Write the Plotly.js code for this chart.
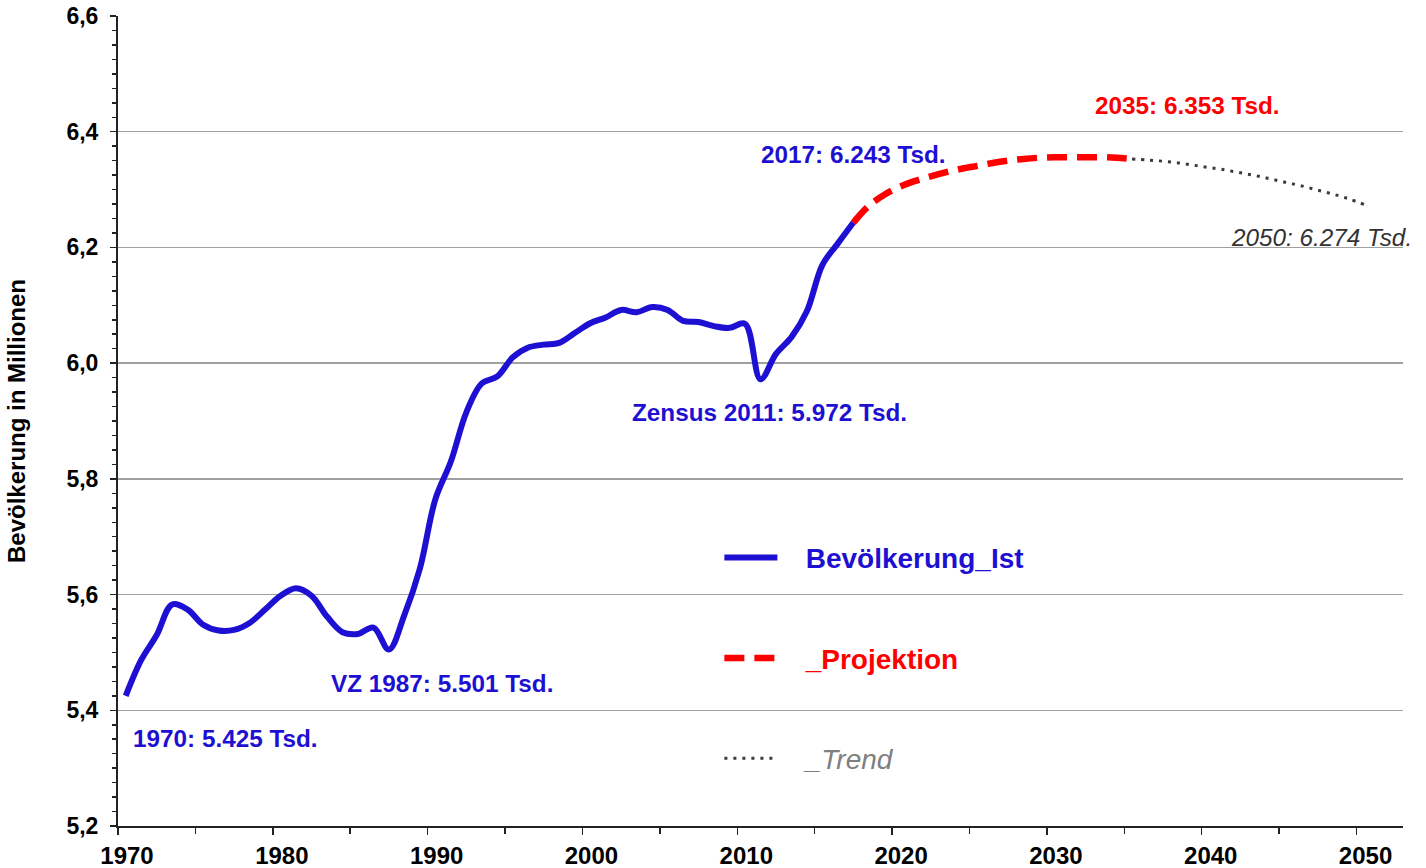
<!DOCTYPE html>
<html>
<head>
<meta charset="utf-8">
<script src="https://cdn.plot.ly/plotly-3.0.1.min.js"></script>
<style>html,body{margin:0;padding:0;background:#fff;}#chart{width:1426px;height:868px;}</style>
</head>
<body>
<div id="chart"></div>
<script>
// Bevölkerung (Mio.), Stand je Jahr
const yearsIst = [1970,1971,1972,1973,1974,1975,1976,1977,1978,1979,1980,1981,1982,1983,1984,1985,1986,1987,1988,1989,1990,1991,1992,1993,1994,1995,1996,1997,1998,1999,2000,2001,2002,2003,2004,2005,2006,2007,2008,2009,2010,2011,2012,2013,2014,2015,2016,2017];
const valuesIst = [5.425,5.487,5.530,5.583,5.574,5.548,5.538,5.539,5.551,5.574,5.598,5.611,5.598,5.562,5.535,5.532,5.543,5.505,5.565,5.645,5.765,5.830,5.915,5.965,5.977,6.010,6.027,6.032,6.035,6.052,6.069,6.079,6.092,6.088,6.097,6.092,6.073,6.071,6.064,6.061,6.068,5.972,6.016,6.045,6.090,6.170,6.207,6.243];

const yearsProj = [2017,2018,2019,2020,2021,2022,2023,2024,2025,2026,2027,2028,2029,2030,2031,2032,2033,2034,2035];
const valuesProj = [6.243,6.272,6.291,6.305,6.315,6.323,6.330,6.336,6.341,6.346,6.350,6.353,6.355,6.356,6.356,6.356,6.356,6.355,6.353];

const yearsTrend = [2035,2036,2037,2038,2039,2040,2041,2042,2043,2044,2045,2046,2047,2048,2049,2050];
const valuesTrend = [6.353,6.351,6.349,6.346,6.342,6.338,6.334,6.329,6.324,6.318,6.312,6.306,6.299,6.292,6.284,6.274];

const seriesNames = ['Bevölkerung_Ist','_Projektion','_Trend'];
const labelTexts = ['1970: 5.425 Tsd.','VZ 1987: 5.501 Tsd.','Zensus 2011: 5.972 Tsd.','2017: 6.243 Tsd.','2035: 6.353 Tsd.','2050: 6.274 Tsd.'];
const yTitle = 'Bevölkerung in Millionen';

const BLUE = '#1E10D2', RED = '#FF0000', GREY = '#3a3a3a';
const FONT = '"Liberation Sans", Arial, sans-serif';
const PAD = '\u00A0\u00A0\u00A0';
// points are plotted at the middle of each year
const mid = ys => ys.map(y => y + 0.5);

const traces = [
  {x: mid(yearsIst), y: valuesIst, mode: 'lines', name: '<span style="color:'+BLUE+'"><b>'+PAD+seriesNames[0]+'</b></span>',
   legendgroup: 'a', line: {color: BLUE, width: 6, shape: 'spline', smoothing: 1}},
  {x: mid(yearsProj), y: valuesProj, mode: 'lines', name: '<span style="color:'+RED+'"><b>'+PAD+seriesNames[1]+'</b></span>',
   legendgroup: 'b', line: {color: RED, width: 6.5, shape: 'spline', smoothing: 1, dash: '20px,10px'}},
  {x: mid(yearsTrend), y: valuesTrend, mode: 'lines', name: '<span style="color:#7f7f7f"><i>'+PAD+seriesNames[2]+'</i></span>',
   legendgroup: 'c', line: {color: GREY, width: 3, shape: 'spline', smoothing: 1, dash: '3px,6px'}}
];

const ann = (t, x, y, color, xanchor, extra) => Object.assign({
  text: t, x: x, y: y, xref: 'x', yref: 'y', showarrow: false, xanchor: xanchor, yanchor: 'middle',
  font: {family: FONT, size: 24.3, color: color, weight: 'bold'}}, extra || {});

const layout = {
  width: 1426, height: 868,
  margin: {l: 118, r: 23, t: 16, b: 42},
  paper_bgcolor: '#fff', plot_bgcolor: '#fff',
  separators: ',.',
  font: {family: FONT, color: '#000'},
  showlegend: true,
  legend: {x: 0.468, y: 0.362, xanchor: 'left', yanchor: 'top', bgcolor: 'rgba(0,0,0,0)',
           font: {family: FONT, size: 28}, tracegroupgap: 61, itemwidth: 53, traceorder: 'grouped'},
  xaxis: {range: [1970, 2053], tick0: 1970, dtick: 10, ticks: 'outside', ticklen: 7, tickwidth: 1.5, tickcolor: '#222',
          showline: true, linecolor: '#222', linewidth: 2, showgrid: false, zeroline: false, ticklabelshift: 9,
          tickfont: {family: FONT, size: 24, weight: 'bold', color: '#000'},
          minor: {dtick: 5, tick0: 1970, ticks: 'outside', ticklen: 6, tickwidth: 1.5, tickcolor: '#222', showgrid: false}},
  yaxis: {range: [5.2, 6.6], tick0: 5.2, dtick: 0.2, tickformat: '.1f', ticks: 'outside', ticklen: 6, tickwidth: 1.5, tickcolor: '#222',
          showline: true, linecolor: '#222', linewidth: 2, showgrid: true, gridcolor: '#a0a0a0', gridwidth: 1.5, zeroline: false,
          ticklabelstandoff: 7,
          tickfont: {family: FONT, size: 23, weight: 'bold', color: '#000'},
          minor: {dtick: 0.025, tick0: 5.2, ticks: 'outside', ticklen: 4, tickwidth: 1.5, tickcolor: '#222', showgrid: false},
          title: {text: yTitle, font: {family: FONT, size: 24, weight: 'bold', color: '#000'}, standoff: 34}},
  annotations: [
    ann(labelTexts[0], 1970.82, 5.352, BLUE, 'left'),
    ann(labelTexts[1], 1983.6, 5.447, BLUE, 'left'),
    ann(labelTexts[2], 2003.07, 5.914, BLUE, 'left'),
    ann(labelTexts[3], 2011.39, 6.361, BLUE, 'left'),
    ann(labelTexts[4], 2032.97, 6.446, RED, 'left'),
    ann(labelTexts[5], 2053, 6.217, '#333', 'right', {xshift: 11, font: {family: FONT, size: 24.3, color: '#333', style: 'italic'}})
  ]
};

Plotly.newPlot('chart', traces, layout, {displayModeBar: false, staticPlot: true});
</script>
</body>
</html>
